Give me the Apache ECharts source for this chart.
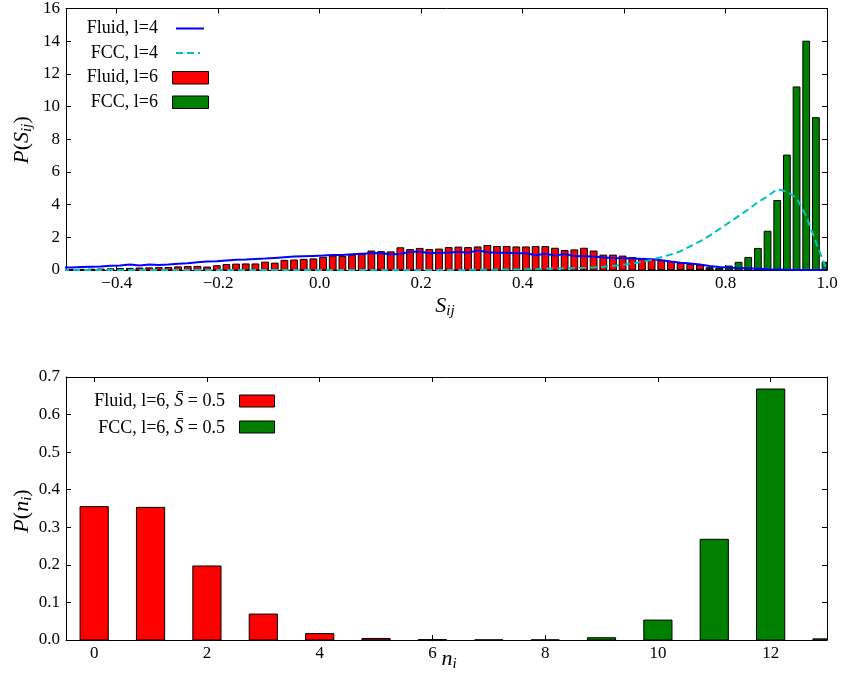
<!DOCTYPE html>
<html><head><meta charset="utf-8">
<script src="https://cdn.jsdelivr.net/npm/echarts@6.0.0/dist/echarts.min.js"></script>
<style>html,body{margin:0;padding:0;background:#fff}#c{width:841px;height:678px}</style>
</head><body><div id="c"></div><script>
const FONT = '"Liberation Serif", "Times New Roman", serif';

// ---- histogram definition (top panel) ----
const histMin = -1, histMax = 1, histBins = 105, firstBin = 25;
const barFraction = 0.7;

// P(S_ij) values, one per bin starting at firstBin
const fluidL6 = [0.03,
  0.03,0.04,0.05,0.06,0.07,0.09,0.10,0.12,0.13,0.14,
  0.15,0.19,0.21,0.22,0.18,0.26,0.33,0.36,0.37,0.37,
  0.48,0.42,0.59,0.61,0.65,0.68,0.78,0.85,0.83,0.91,
  0.96,1.16,1.12,1.11,1.36,1.25,1.32,1.25,1.28,1.37,
  1.40,1.37,1.41,1.50,1.44,1.44,1.41,1.41,1.44,1.43,
  1.33,1.19,1.23,1.33,1.16,0.91,0.91,0.85,0.76,0.71,
  0.65,0.58,0.51,0.40,0.34,0.30,0.14,0.06,0.03,0.02,
  0.01,0,0,0,0,0,0,0,0];
const fccL6 = [0,
  0,0,0,0,0,0,0,0,0,0,
  0,0,0,0,0,0,0,0,0,0,
  0,0,0,0,0,0,0,0,0,0,
  0,0,0,0,0,0,0,0,0,0,
  0,0,0,0,0,0,0,0,0,0,
  0,0,0,0,0,0,0,0,0,0,
  0.005,0.01,0.01,0.02,0.03,0.04,0.06,0.10,0.24,0.47,
  0.77,1.32,2.37,4.25,7.03,11.2,14.0,9.32,0.47];
const fluidL4 = [0.14,
  0.16,0.18,0.20,0.22,0.26,0.27,0.33,0.28,0.33,0.31,
  0.34,0.38,0.42,0.47,0.52,0.54,0.58,0.62,0.64,0.68,
  0.70,0.74,0.78,0.82,0.84,0.86,0.88,0.92,0.92,0.97,
  1.00,1.02,1.04,0.95,1.00,1.10,1.13,1.02,1.05,1.06,
  1.12,1.05,1.20,1.08,1.06,1.05,1.02,1.03,0.90,1.00,
  0.88,0.98,0.85,0.84,0.82,0.77,0.74,0.72,0.70,0.68,
  0.66,0.60,0.52,0.45,0.40,0.33,0.25,0.18,0.14,0.12,
  0.10,0.08,0.05,0.03,0.01,0,0,0,0];
const fccL4 = [0,
  0,0,0,0,0,0,0,0,0,0,
  0,0,0,0,0,0,0,0,0,0,
  0,0,0,0,0,0,0,0,0,0,
  0,0,0,0,0,0,0,0,0,0,
  0,0.01,0.01,0.02,0.02,0.03,0.03,0.04,0.05,0.07,
  0.09,0.10,0.11,0.13,0.16,0.20,0.25,0.32,0.40,0.50,
  0.62,0.78,0.95,1.15,1.45,1.75,2.10,2.50,2.90,3.30,
  3.70,4.15,4.50,4.95,4.80,4.40,3.30,1.70,0.20];

const sTicks = [-0.4, -0.2, 0.0, 0.2, 0.4, 0.6, 0.8, 1.0];
const sTickLabels = ['\u22120.4', '\u22120.2', '0.0', '0.2', '0.4', '0.6', '0.8', '1.0'];

// ---- bottom panel ----
const nValues = [0,1,2,3,4,5,6,7,8,9,10,11,12,13];
const fluidN = [0.355,0.353,0.197,0.069,0.017,0.004,0.001,0.0003,0,0,0,0,0,0];
const fccN   = [0,0,0,0,0,0,0,0,0.0003,0.006,0.053,0.268,0.668,0.003];
const nTicks = [0,2,4,6,8,10,12];
const nBarWidth = 0.5;

// ---- derived ----
const binW = (histMax - histMin) / histBins;
const binLeft = fluidL6.map((_, i) => histMin + (firstBin + i + 0.5) * binW);
const barData = vals => vals.map((v, i) => [binLeft[i], binLeft[i] + barFraction * binW, v]);
const lineData = vals => vals.map((v, i) => [binLeft[i] + barFraction * binW / 2, v]);
const nBarData = vals => vals.map((v, i) => [nValues[i] - nBarWidth / 2, nValues[i] + nBarWidth / 2, v]);

function rectRenderer(color) {
  return function (params, api) {
    const x0 = api.value(0), x1 = api.value(1), h = api.value(2);
    if (!(h > 0)) return null;
    const a = api.coord([x0, 0]), b = api.coord([x1, h]);
    const cs = params.coordSys;
    const r = echarts.graphic.clipRectByRect(
      {x: Math.min(a[0], b[0]), y: b[1], width: Math.abs(b[0] - a[0]), height: a[1] - b[1]},
      {x: cs.x, y: cs.y, width: cs.width, height: cs.height});
    if (!r) return null;
    return {type: 'rect', shape: r, style: {fill: color, stroke: '#000', lineWidth: 1}};
  };
}

const mctx = document.createElement('canvas').getContext('2d');
function mathText(parts, cx, cy, rot) {
  let w = 0;
  const items = parts.map(p => {
    const font = (p.it ? 'italic ' : '') + p.sz + 'px ' + FONT;
    mctx.font = font;
    const tw = mctx.measureText(p.t).width;
    const it = {t: p.t, font, x: w, dy: p.dy || 0};
    w += tw;
    return it;
  });
  return {type: 'group', x: cx, y: cy, rotation: rot || 0, silent: true,
    children: items.map(it => ({type: 'text', x: it.x - w / 2, y: it.dy,
      style: {text: it.t, font: it.font, fill: '#000', verticalAlign: 'middle', align: 'left'}}))};
}

const labelStyle = {color: '#000', fontSize: 17, fontFamily: FONT};
const lineAxis = {show: true, onZero: false, lineStyle: {color: '#000', width: 1}};
function tickCfg(vals) {
  const t = {show: true, inside: true, length: 5, lineStyle: {color: '#000', width: 1}};
  if (vals) t.customValues = vals;
  return t;
}

const sLabel = v => {
  const i = sTicks.findIndex(t => Math.abs(t - v) < 1e-9);
  return i >= 0 ? sTickLabels[i] : '';
};

const legendFont = '18px ' + FONT;
const legendItalic = 'italic 18px ' + FONT;
const graphics = [
  // top legend
  {type: 'text', x: 158, y: 28.5, style: {text: 'Fluid, l=4', font: legendFont, fill: '#000', align: 'right', verticalAlign: 'middle'}},
  {type: 'line', shape: {x1: 176, y1: 28.5, x2: 204, y2: 28.5}, style: {stroke: '#0000ff', lineWidth: 2}},
  {type: 'text', x: 158, y: 53, style: {text: 'FCC, l=4', font: legendFont, fill: '#000', align: 'right', verticalAlign: 'middle'}},
  {type: 'line', shape: {x1: 176, y1: 53, x2: 200, y2: 53}, style: {stroke: '#00bfbf', lineWidth: 2, lineDash: [7, 4]}},
  {type: 'text', x: 158, y: 77.5, style: {text: 'Fluid, l=6', font: legendFont, fill: '#000', align: 'right', verticalAlign: 'middle'}},
  {type: 'rect', shape: {x: 172.5, y: 71.5, width: 36, height: 12.5}, style: {fill: '#ff0000', stroke: '#000', lineWidth: 1}},
  {type: 'text', x: 158, y: 102, style: {text: 'FCC, l=6', font: legendFont, fill: '#000', align: 'right', verticalAlign: 'middle'}},
  {type: 'rect', shape: {x: 172.5, y: 96, width: 36, height: 12.5}, style: {fill: '#008000', stroke: '#000', lineWidth: 1}},
  // bottom legend
  {type: 'text', x: 225, y: 401.5, style: {text: '{n|Fluid, l=6, }{m|S\u0304}{n| = 0.5}', align: 'right', verticalAlign: 'middle',
    rich: {n: {font: legendFont, fill: '#000'}, m: {font: legendItalic, fill: '#000'}}}},
  {type: 'rect', shape: {x: 239.5, y: 395, width: 35, height: 12}, style: {fill: '#ff0000', stroke: '#000', lineWidth: 1}},
  {type: 'text', x: 225, y: 428, style: {text: '{n|FCC, l=6, }{m|S\u0304}{n| = 0.5}', align: 'right', verticalAlign: 'middle',
    rich: {n: {font: legendFont, fill: '#000'}, m: {font: legendItalic, fill: '#000'}}}},
  {type: 'rect', shape: {x: 239.5, y: 421, width: 35, height: 12}, style: {fill: '#008000', stroke: '#000', lineWidth: 1}},
  // axis titles
  mathText([{t: 'P', it: true, sz: 22}, {t: '(', sz: 22}, {t: 'S', it: true, sz: 22}, {t: 'ij', it: true, sz: 15, dy: 5}, {t: ')', sz: 22}], 22, 140, Math.PI / 2),
  mathText([{t: 'S', it: true, sz: 22}, {t: 'ij', it: true, sz: 15, dy: 5}], 445, 306, 0),
  mathText([{t: 'P', it: true, sz: 22}, {t: '(', sz: 22}, {t: 'n', it: true, sz: 22}, {t: 'i', it: true, sz: 15, dy: 5}, {t: ')', sz: 22}], 22, 511, Math.PI / 2),
  mathText([{t: 'n', it: true, sz: 22}, {t: 'i', it: true, sz: 15, dy: 5}], 449, 659, 0)
];

const chart = echarts.init(document.getElementById('c'), null, {renderer: 'canvas'});
chart.setOption({
  animation: false,
  backgroundColor: '#fff',
  grid: [
    {left: 66, right: 14, top: 6, height: 264},
    {left: 66, right: 14, top: 377, height: 263}
  ],
  xAxis: [
    {gridIndex: 0, type: 'value', min: -0.5, max: 1.0, position: 'bottom', axisLine: lineAxis, axisTick: tickCfg(sTicks),
      axisLabel: Object.assign({show: true, customValues: sTicks, formatter: sLabel, margin: 5}, labelStyle), splitLine: {show: false}},
    {gridIndex: 0, type: 'value', min: -0.5, max: 1.0, position: 'top', axisLine: lineAxis, axisTick: tickCfg(sTicks),
      axisLabel: {show: false}, splitLine: {show: false}},
    {gridIndex: 1, type: 'value', min: -0.5, max: 13, position: 'bottom', axisLine: lineAxis, axisTick: tickCfg(nTicks),
      axisLabel: Object.assign({show: true, customValues: nTicks, margin: 5}, labelStyle), splitLine: {show: false}},
    {gridIndex: 1, type: 'value', min: -0.5, max: 13, position: 'top', axisLine: lineAxis, axisTick: tickCfg(nTicks),
      axisLabel: {show: false}, splitLine: {show: false}}
  ],
  yAxis: [
    {gridIndex: 0, type: 'value', min: 0, max: 16, interval: 2, position: 'left', axisLine: lineAxis, axisTick: tickCfg(),
      axisLabel: Object.assign({show: true, margin: 6, showMinLabel: true, showMaxLabel: true}, labelStyle), splitLine: {show: false}},
    {gridIndex: 0, type: 'value', min: 0, max: 16, interval: 2, position: 'right', axisLine: lineAxis, axisTick: tickCfg(),
      axisLabel: {show: false}, splitLine: {show: false}},
    {gridIndex: 1, type: 'value', min: 0, max: 0.7, interval: 0.1, position: 'left', axisLine: lineAxis, axisTick: tickCfg(),
      axisLabel: Object.assign({show: true, margin: 6, showMinLabel: true, showMaxLabel: true, formatter: v => v.toFixed(1)}, labelStyle), splitLine: {show: false}},
    {gridIndex: 1, type: 'value', min: 0, max: 0.7, interval: 0.1, position: 'right', axisLine: lineAxis, axisTick: tickCfg(),
      axisLabel: {show: false}, splitLine: {show: false}}
  ],
  series: [
    {name: 'Fluid, l=6', type: 'custom', xAxisIndex: 0, yAxisIndex: 0, renderItem: rectRenderer('#ff0000'),
      encode: {x: [0, 1], y: 2}, data: barData(fluidL6), z: 2},
    {name: 'FCC, l=6', type: 'custom', xAxisIndex: 0, yAxisIndex: 0, renderItem: rectRenderer('#008000'),
      encode: {x: [0, 1], y: 2}, data: barData(fccL6), z: 3},
    {name: 'Fluid, l=4', type: 'line', xAxisIndex: 0, yAxisIndex: 0, data: lineData(fluidL4), showSymbol: false, symbol: 'none',
      lineStyle: {color: '#0000ff', width: 2}, z: 5, clip: true},
    {name: 'FCC, l=4', type: 'line', xAxisIndex: 0, yAxisIndex: 0, data: lineData(fccL4), showSymbol: false, symbol: 'none',
      lineStyle: {color: '#00bfbf', width: 2, type: [7, 4]}, z: 6, clip: true},
    {name: 'Fluid, l=6, S=0.5', type: 'custom', xAxisIndex: 2, yAxisIndex: 2, renderItem: rectRenderer('#ff0000'),
      encode: {x: [0, 1], y: 2}, data: nBarData(fluidN), z: 2},
    {name: 'FCC, l=6, S=0.5', type: 'custom', xAxisIndex: 2, yAxisIndex: 2, renderItem: rectRenderer('#008000'),
      encode: {x: [0, 1], y: 2}, data: nBarData(fccN), z: 3}
  ],
  graphic: graphics
});
</script></body></html>
